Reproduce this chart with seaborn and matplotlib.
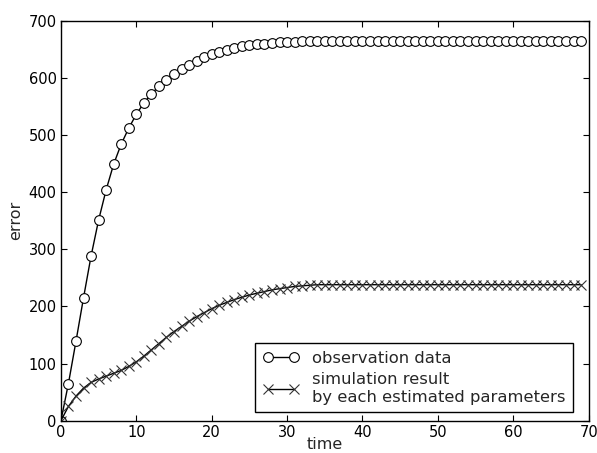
import numpy as np
import pandas as pd
import seaborn as sns
import matplotlib.pyplot as plt

# --- data ---
time = list(range(70))
observation = [0, 65, 139, 215, 288, 351, 404, 449, 484, 512,
               536, 556, 572, 585, 596, 606, 615, 623, 630, 636,
               641, 645, 649, 652, 655, 657, 659, 660, 661, 662,
               663, 663, 664, 664, 664] + [665] * 35
simulation = [0, 25, 43, 57, 67, 73, 78, 83, 88, 95,
              103, 113, 124, 135, 146, 156, 165, 174, 182, 189,
              196, 202, 207, 212, 216, 220, 223, 226, 229, 231,
              233, 235, 236, 237, 238] + [238] * 35

obs_label = "observation data"
sim_label = "simulation result\nby each estimated parameters"

df = pd.DataFrame({"time": time, "obs": observation, "sim": simulation})

sns.set_style("ticks")
plt.rcParams["font.family"] = ["DejaVu Sans"]

fig = plt.figure(figsize=(5.97, 4.53), dpi=100)
ax = fig.add_axes([0.102, 0.0713, 0.884, 0.883])

sns.lineplot(data=df, x="time", y="obs", ax=ax, color="black", lw=1.0,
             marker="o", markersize=7, markerfacecolor="white",
             markeredgecolor="black", markeredgewidth=0.8, label=obs_label)
sns.lineplot(data=df, x="time", y="sim", ax=ax, color="black", lw=1.0,
             marker="x", markersize=7, markeredgecolor="#333333",
             markeredgewidth=0.8, label=sim_label)

ax.set_xlim(0, 70)
ax.set_ylim(0, 700)
ax.set_xticks(range(0, 71, 10))
ax.set_yticks(range(0, 701, 100))
ax.tick_params(direction="in", top=True, right=True, labelsize=10.5,
               length=4, width=0.8, colors="black", pad=3)
for s in ax.spines.values():
    s.set_linewidth(1.0)
    s.set_color("black")
ax.set_xlabel("time", fontsize=11.5, labelpad=-2)
ax.set_ylabel("error", fontsize=11.5, labelpad=4)

leg = ax.legend(loc="lower right", bbox_to_anchor=(0.97, 0.022),
                fontsize=11.8, frameon=True, fancybox=False,
                edgecolor="black", framealpha=1, numpoints=2,
                handlelength=2.2, borderpad=0.45, labelspacing=0.4,
                borderaxespad=0)
leg.get_frame().set_linewidth(1.0)

fig.savefig("out.png", dpi=100)
